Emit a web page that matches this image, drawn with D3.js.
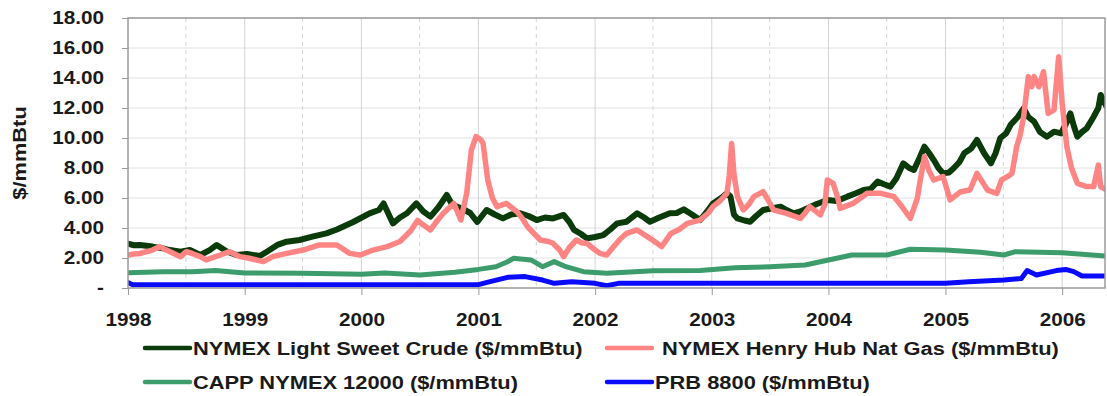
<!DOCTYPE html>
<html>
<head>
<meta charset="utf-8">
<script src="https://cdn.jsdelivr.net/npm/d3@7"></script>
<style>
  html, body { margin: 0; padding: 0; background: #fff; }
  svg { display: block; }
  text { font-family: Arial, "Liberation Sans", sans-serif; font-weight: bold; fill: #1a1a1a; }
</style>
</head>
<body>
<svg id="chart" width="1107" height="396"></svg>
<script>
// Prices in $/mmBtu, keyed by decimal year
const crude = [
  [1998.00,2.95],[1998.05,2.85],[1998.10,2.87],[1998.21,2.76],[1998.30,2.64],[1998.36,2.53],
  [1998.45,2.42],[1998.53,2.53],[1998.62,2.20],[1998.70,2.53],[1998.76,2.87],[1998.85,2.42],
  [1998.93,2.20],[1999.02,2.27],[1999.13,2.13],[1999.19,2.42],[1999.28,2.87],[1999.36,3.09],
  [1999.47,3.20],[1999.58,3.42],[1999.70,3.64],[1999.79,3.90],[1999.93,4.40],[2000.07,4.98],
  [2000.15,5.20],[2000.19,5.64],[2000.24,4.80],[2000.27,4.31],[2000.33,4.70],[2000.39,4.98],
  [2000.47,5.64],[2000.53,5.10],[2000.59,4.76],[2000.66,5.40],[2000.73,6.20],[2000.78,5.50],
  [2000.82,5.42],[2000.86,5.30],[2000.93,5.00],[2000.99,4.40],[2001.07,5.20],[2001.14,4.90],
  [2001.21,4.64],[2001.28,4.90],[2001.36,4.98],[2001.43,4.80],[2001.50,4.53],[2001.57,4.70],
  [2001.64,4.64],[2001.73,4.87],[2001.78,4.40],[2001.82,3.87],[2001.88,3.60],[2001.93,3.31],
  [2002.00,3.40],[2002.07,3.53],[2002.13,3.90],[2002.19,4.31],[2002.27,4.42],[2002.36,4.98],
  [2002.42,4.70],[2002.47,4.42],[2002.55,4.70],[2002.64,4.98],[2002.70,5.00],[2002.76,5.24],
  [2002.83,4.90],[2002.90,4.53],[2002.96,5.10],[2003.01,5.64],[2003.08,6.00],[2003.13,6.31],
  [2003.16,6.10],[2003.19,4.90],[2003.22,4.64],[2003.28,4.50],[2003.33,4.42],[2003.38,4.80],
  [2003.44,5.20],[2003.51,5.30],[2003.59,5.42],[2003.64,5.20],[2003.70,4.98],[2003.76,5.10],
  [2003.82,5.31],[2003.90,5.60],[2003.99,5.87],[2004.07,5.80],[2004.16,6.09],[2004.23,6.30],
  [2004.30,6.53],[2004.36,6.60],[2004.42,7.09],[2004.48,6.90],[2004.53,6.76],[2004.58,7.30],
  [2004.64,8.31],[2004.69,8.00],[2004.73,7.87],[2004.78,8.70],[2004.82,9.42],[2004.86,9.00],
  [2004.90,8.53],[2004.94,8.00],[2004.98,7.64],[2005.03,7.70],[2005.07,7.98],[2005.12,8.40],
  [2005.16,8.98],[2005.22,9.30],[2005.27,9.87],[2005.33,9.00],[2005.39,8.31],[2005.43,9.00],
  [2005.47,10.00],[2005.52,10.31],[2005.56,10.90],[2005.62,11.40],[2005.67,11.98],[2005.71,11.40],
  [2005.76,11.09],[2005.81,10.40],[2005.87,10.09],[2005.93,10.42],[2005.99,10.31],[2006.03,10.90],
  [2006.07,11.64],[2006.10,10.80],[2006.13,10.09],[2006.17,10.40],[2006.21,10.64],[2006.27,11.42],
  [2006.31,12.00],[2006.33,12.87],[2006.36,12.40],[2006.38,12.09]
];

const natGas = [
  [1998.00,2.20],[1998.05,2.27],[1998.10,2.30],[1998.21,2.53],[1998.27,2.76],[1998.36,2.42],
  [1998.45,2.09],[1998.50,2.42],[1998.55,2.30],[1998.62,2.09],[1998.67,1.87],[1998.79,2.20],
  [1998.87,2.42],[1998.96,2.09],[1999.04,1.98],[1999.16,1.76],[1999.24,2.09],[1999.36,2.31],
  [1999.50,2.53],[1999.64,2.87],[1999.79,2.87],[1999.90,2.31],[1999.99,2.20],[2000.10,2.53],
  [2000.22,2.76],[2000.33,3.10],[2000.42,3.80],[2000.48,4.50],[2000.53,4.20],[2000.59,3.87],
  [2000.65,4.50],[2000.70,4.98],[2000.79,5.64],[2000.85,4.53],[2000.90,6.31],[2000.94,9.20],
  [2000.98,10.09],[2001.02,9.90],[2001.04,9.64],[2001.08,7.20],[2001.12,6.00],[2001.16,5.42],
  [2001.24,5.64],[2001.33,5.09],[2001.38,4.60],[2001.42,4.09],[2001.48,3.60],[2001.53,3.20],
  [2001.60,3.10],[2001.64,2.98],[2001.70,2.50],[2001.73,2.09],[2001.78,2.70],[2001.84,3.20],
  [2001.89,3.00],[2001.93,2.98],[2001.99,2.60],[2002.04,2.31],[2002.10,2.20],[2002.16,2.76],
  [2002.22,3.30],[2002.27,3.64],[2002.36,3.87],[2002.47,3.31],[2002.57,2.76],[2002.65,3.64],
  [2002.72,3.90],[2002.79,4.31],[2002.90,4.53],[2002.97,5.00],[2003.01,5.42],[2003.07,5.80],
  [2003.13,6.31],[2003.15,7.50],[2003.17,9.64],[2003.19,7.60],[2003.22,6.09],[2003.27,5.20],
  [2003.32,5.60],[2003.36,6.09],[2003.44,6.42],[2003.48,5.90],[2003.53,5.20],[2003.64,4.98],
  [2003.76,4.64],[2003.80,5.00],[2003.84,5.42],[2003.93,4.87],[2003.97,5.60],[2003.99,7.20],
  [2004.04,6.98],[2004.08,6.00],[2004.10,5.31],[2004.21,5.64],[2004.33,6.31],[2004.45,6.31],
  [2004.56,6.09],[2004.63,5.40],[2004.70,4.64],[2004.76,6.00],[2004.78,6.98],[2004.82,8.76],
  [2004.86,7.80],[2004.90,7.20],[2004.98,7.42],[2005.04,5.87],[2005.13,6.42],[2005.21,6.53],
  [2005.27,7.64],[2005.36,6.53],[2005.44,6.31],[2005.48,7.20],[2005.53,7.42],[2005.57,7.64],
  [2005.61,9.42],[2005.64,10.20],[2005.67,11.42],[2005.71,14.09],[2005.74,13.42],[2005.76,14.09],
  [2005.80,13.42],[2005.84,14.42],[2005.88,11.64],[2005.93,11.87],[2005.97,15.42],[2006.00,12.31],
  [2006.04,9.42],[2006.08,8.00],[2006.13,6.98],[2006.21,6.76],[2006.27,6.76],[2006.31,8.20],
  [2006.33,6.76],[2006.38,6.53]
];

const capp = [
  [1998.00,1.02],[1998.30,1.09],[1998.55,1.09],[1998.75,1.16],[1999.00,1.00],[1999.50,0.98],
  [2000.00,0.92],[2000.20,1.00],[2000.50,0.87],[2000.80,1.05],[2001.00,1.24],[2001.15,1.42],
  [2001.25,1.75],[2001.30,1.98],[2001.45,1.87],[2001.55,1.42],[2001.65,1.76],[2001.75,1.42],
  [2001.90,1.09],[2002.10,0.98],[2002.50,1.15],[2002.90,1.16],[2003.20,1.35],[2003.50,1.42],
  [2003.80,1.53],[2004.00,1.87],[2004.20,2.20],[2004.50,2.20],[2004.70,2.58],[2005.00,2.53],
  [2005.30,2.38],[2005.50,2.20],[2005.60,2.42],[2006.00,2.35],[2006.38,2.13]
];

const prb = [
  [1998.00,0.36],[1998.04,0.22],[2001.00,0.22],[2001.10,0.42],[2001.25,0.71],[2001.40,0.76],
  [2001.55,0.53],[2001.65,0.31],[2001.80,0.42],[2002.00,0.31],[2002.10,0.15],[2002.20,0.31],
  [2005.00,0.31],[2005.20,0.42],[2005.50,0.53],[2005.65,0.64],[2005.70,1.16],[2005.78,0.87],
  [2005.95,1.16],[2006.03,1.24],[2006.10,1.09],[2006.17,0.80],[2006.38,0.80]
];

const yTicks = [0, 2, 4, 6, 8, 10, 12, 14, 16, 18];
const yTickLabels = ["-", "2.00", "4.00", "6.00", "8.00", "10.00", "12.00", "14.00", "16.00", "18.00"];
const yTitle = "$/mmBtu";

const seriesNames = [
  "NYMEX Light Sweet Crude ($/mmBtu)",
  "NYMEX Henry Hub Nat Gas ($/mmBtu)",
  "CAPP NYMEX 12000 ($/mmBtu)",
  "PRB 8800 ($/mmBtu)"
];
const seriesColors = ["#0b3a0b", "#ff8585", "#3c9c6c", "#0a0aff"];

// decimal year -> Date
const toDate = t => {
  const y = Math.floor(t);
  const a = Date.UTC(y, 0, 1), b = Date.UTC(y + 1, 0, 1);
  return new Date(a + (t - y) * (b - a));
};

const plot = { left: 128, top: 18, right: 1105, bottom: 288 };
const svg = d3.select("#chart");
const TX = 1.15; // horizontal stretch applied to all lettering

const x = d3.scaleUtc()
  .domain([new Date(Date.UTC(1998, 0, 1)), new Date(Date.UTC(2006, 4, 15))])
  .range([plot.left, plot.right]);
const y = d3.scaleLinear().domain([0, 18]).range([plot.bottom, plot.top]);

// horizontal grid
svg.append("g").selectAll("line").data(yTicks.slice(1)).join("line")
  .attr("x1", plot.left).attr("x2", plot.right)
  .attr("y1", d => y(d)).attr("y2", d => y(d))
  .attr("stroke", "#e2e2e2").attr("stroke-width", 1);

// vertical grid: solid at each year, dashed at mid-year
const years = d3.utcYear.range(new Date(Date.UTC(1998, 0, 1)), new Date(Date.UTC(2007, 0, 1)))
  .filter(d => x(d) <= plot.right);
const midYears = d3.utcYear.range(new Date(Date.UTC(1998, 0, 1)), new Date(Date.UTC(2007, 0, 1)))
  .map(d => new Date(Date.UTC(d.getUTCFullYear(), 6, 1)))
  .filter(d => x(d) <= plot.right);
svg.append("g").selectAll("line").data(years.slice(1)).join("line")
  .attr("x1", d => x(d)).attr("x2", d => x(d))
  .attr("y1", plot.top).attr("y2", plot.bottom)
  .attr("stroke", "#d4d4d4").attr("stroke-width", 1);
svg.append("g").selectAll("line").data(midYears).join("line")
  .attr("x1", d => x(d)).attr("x2", d => x(d))
  .attr("y1", plot.top).attr("y2", plot.bottom)
  .attr("stroke", "#d4d4d4").attr("stroke-width", 1)
  .attr("stroke-dasharray", "4,4");

// series lines
svg.append("defs").append("clipPath").attr("id", "plotClip")
  .append("rect").attr("x", plot.left).attr("y", plot.top)
  .attr("width", plot.right - plot.left).attr("height", plot.bottom - plot.top);

const line = d3.line().x(d => x(toDate(d[0]))).y(d => y(d[1]));
const seriesData = [crude, natGas, capp, prb];
const widths = [6, 5.5, 5, 5];
const lines = svg.append("g").attr("clip-path", "url(#plotClip)");
seriesData.forEach((s, i) => {
  lines.append("path").datum(s)
    .attr("d", line)
    .attr("fill", "none")
    .attr("stroke", seriesColors[i])
    .attr("stroke-width", widths[i])
    .attr("stroke-linejoin", "round")
    .attr("stroke-linecap", "round");
});

// frame
svg.append("rect")
  .attr("x", plot.left).attr("y", plot.top)
  .attr("width", plot.right - plot.left).attr("height", plot.bottom - plot.top)
  .attr("fill", "none").attr("stroke", "#9a9a9a").attr("stroke-width", 1.5);

// y axis
const yAxis = svg.append("g")
  .attr("transform", `translate(${plot.left},0)`)
  .call(d3.axisLeft(y).tickValues(yTicks).tickFormat((d, i) => yTickLabels[i]).tickSize(6));
yAxis.select(".domain").remove();
yAxis.selectAll(".tick line").attr("stroke", "#9a9a9a");
yAxis.selectAll(".tick text")
  .attr("x", -24 / TX)
  .attr("transform", `scale(${TX},1)`)
  .style("font-size", "18px")
  .attr("fill", "#1a1a1a");

// x axis
const xAxis = svg.append("g")
  .attr("transform", `translate(0,${plot.bottom})`)
  .call(d3.axisBottom(x).tickValues(years).tickFormat(d3.utcFormat("%Y")).tickSize(7));
xAxis.select(".domain").remove();
xAxis.selectAll(".tick line").attr("stroke", "#9a9a9a");
xAxis.selectAll(".tick text")
  .attr("y", 25)
  .attr("transform", `scale(${TX},1)`)
  .style("font-size", "18px")
  .attr("fill", "#1a1a1a");

// y title
svg.append("text")
  .attr("transform", `translate(26,153) rotate(-90) scale(${TX},1)`)
  .attr("text-anchor", "middle")
  .style("font-size", "19px")
  .text(yTitle);

// legend
const legendPos = [
  { lx: 145, tx: 193, y: 348 },
  { lx: 607, tx: 662, y: 348 },
  { lx: 145, tx: 193, y: 382 },
  { lx: 607, tx: 655, y: 382 }
];
const legend = svg.append("g");
seriesNames.forEach((name, i) => {
  const p = legendPos[i];
  legend.append("line")
    .attr("x1", p.lx).attr("x2", p.lx + 45)
    .attr("y1", p.y).attr("y2", p.y)
    .attr("stroke", seriesColors[i]).attr("stroke-width", 4.5)
    .attr("stroke-linecap", "round");
  legend.append("text")
    .attr("transform", `translate(${p.tx},${p.y + 7}) scale(${TX},1)`)
    .style("font-size", "19px")
    .text(name);
});
</script>
</body>
</html>
